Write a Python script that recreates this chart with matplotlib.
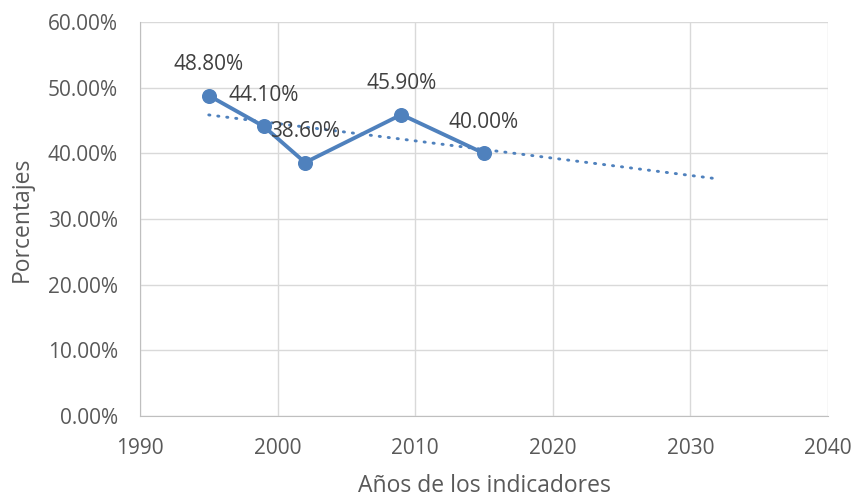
import numpy as np
import matplotlib.pyplot as plt

# Datos
anios = [1995, 1999, 2002, 2009, 2015]
porcentajes = [48.8, 44.1, 38.6, 45.9, 40.0]
etiquetas = ["48.80%", "44.10%", "38.60%", "45.90%", "40.00%"]
pronostico_adelante = 17  # periodos hacia adelante en la linea de tendencia

azul = "#4f81bd"
gris_texto = "#595959"

plt.rcParams["font.family"] = ["Open Sans", "DejaVu Sans"]

fig = plt.figure(figsize=(8.55, 5), dpi=100)
ax = fig.add_axes([0.1637, 0.168, 0.9684 - 0.1637, 0.956 - 0.168])

ax.plot(anios, porcentajes, color=azul, lw=2.8, marker="o", ms=9.8, zorder=3)

# Linea de tendencia lineal (con pronostico hacia adelante)
pendiente, intercepto = np.polyfit(anios, porcentajes, 1)
xt = np.array([anios[0], anios[-1] + pronostico_adelante])
ax.plot(xt, pendiente * xt + intercepto, color=azul, lw=2.1, ls=(0, (0.4, 2.7)),
        dash_capstyle="round", zorder=2)

# Etiquetas de datos encima de cada punto
for x, y, t in zip(anios, porcentajes, etiquetas):
    ax.annotate(t, (x, y), xytext=(0, 22.5), textcoords="offset points",
                ha="center", va="center", fontsize=15, color="#404040", zorder=4)

ax.set_xlim(1990, 2040)
ax.set_ylim(0, 60)
ax.set_xticks(range(1990, 2041, 10))
ax.set_yticks(range(0, 61, 10))
ax.set_yticklabels([f"{v:.2f}%" for v in range(0, 61, 10)])
ax.grid(True, color="#d9d9d9", lw=1)
ax.set_axisbelow(True)

for s in ["top", "right"]:
    ax.spines[s].set_visible(False)
for s in ["left", "bottom"]:
    ax.spines[s].set_color("#bfbfbf")
ax.tick_params(length=0, labelsize=15, colors=gris_texto)
ax.tick_params(axis="y", pad=16)
ax.tick_params(axis="x", pad=16)

ax.set_xlabel("Años de los indicadores", fontsize=16.5, color=gris_texto, labelpad=11)
ax.set_ylabel("Porcentajes", fontsize=16.5, color=gris_texto, labelpad=10)

fig.savefig("out.png", dpi=100)
